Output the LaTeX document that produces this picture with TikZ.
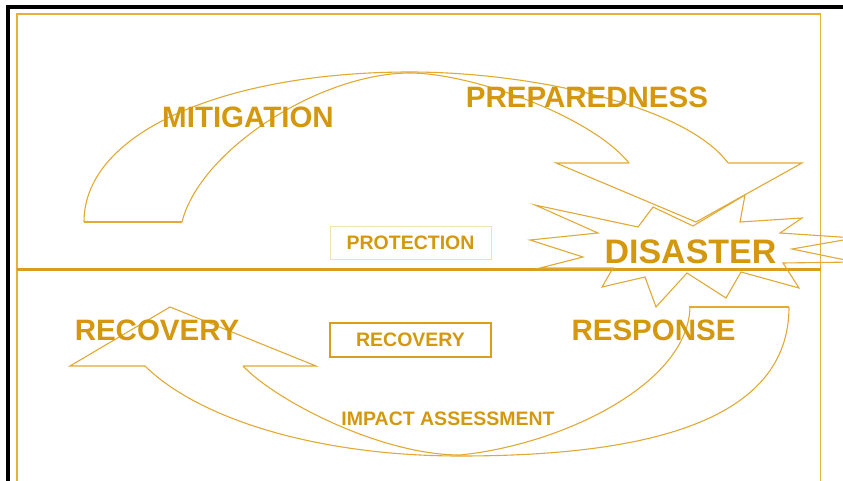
\documentclass[tikz,border=0pt]{standalone}
\usepackage{fontspec}
\setmainfont{Liberation Sans}
\usepackage{tikz}
\usetikzlibrary{calc}
\usepackage{xcolor}
\definecolor{cyclegold}{RGB}{224,170,52}
\definecolor{cycletext}{RGB}{212,152,14}
\definecolor{cyclepale}{RGB}{243,224,180}
\definecolor{cycleframe}{RGB}{230,176,58}
\definecolor{cyclerule}{RGB}{216,158,30}

\begin{document}
\begin{tikzpicture}[x=1pt,y=-1pt,font=\bfseries]

% canvas
\useasboundingbox (0,0) rectangle (843,481);
\clip (0,0) rectangle (843,481);
\fill[white] (0,0) rectangle (843,481);

% black border, left and top only
\fill[black] (6,5) rectangle (10,481);
\fill[black] (6,5) rectangle (843,9);

% gold frame and divider
\draw[cycleframe,line width=1.5pt] (17,14) rectangle (820.5,495);
\draw[cyclerule,line width=2.6pt] (17,269.5) -- (820.5,269.5);

\tikzset{
  band/.style={
    draw=cyclegold,
    line width=1.1pt,
    line join=miter
  },
  phase/.style={
    text=cycletext,
    inner sep=0pt,
    font=\bfseries\fontsize{29.5}{31}\selectfont
  },
  tag/.style={
    text=cycletext,
    inner sep=0pt,
    font=\bfseries\fontsize{19.5}{21}\selectfont
  }
}

% upper band: tail at left, head pointing down at the right
\draw[band] (84,222) -- (182,222);
\draw[band] (84,222)
  .. controls (84,130) and (230,72) .. (410,72)
  .. controls (530,72) and (685,105) .. (728,163);
\draw[band] (182,222)
  .. controls (200,150) and (320,73) .. (410,73)
  .. controls (470,73) and (590,115) .. (629,163);
\draw[band] (629,163) -- (556,163) -- (696,222) -- (802,163) -- (728,163);

% lower band: tail at right, head pointing up at the left
\draw[band] (689,307) -- (789,307);
\draw[band] (789,307)
  .. controls (789,420) and (650,456) .. (460,456)
  .. controls (320,456) and (200,420) .. (145,366);
\draw[band] (690,307)
  .. controls (688,385) and (560,445) .. (460,455)
  .. controls (380,455) and (275,400) .. (243,366);
\draw[band] (145,366) -- (70,366) -- (170,307) -- (316,366) -- (243,366);

% burst round the disaster label
\draw[band] (653,207) -- (693,226) -- (745,195) -- (740,222) -- (802,218)
  -- (780,233) -- (855,238) -- (792,249) -- (855,262) -- (783,263)
  -- (799,288) -- (741,272) -- (726,298) -- (687,273) -- (656,307)
  -- (645,277) -- (602,287) -- (613,268) -- (540,268) -- (583,257)
  -- (530,240) -- (598,233) -- (535,205) -- (638,227) -- cycle;

% phase labels
\node[phase] (mitig) at (248,117.5) {MITIGATION};
\node[phase] (prep) at (587,97) {PREPAREDNESS};
\node[phase,font=\bfseries\fontsize{34}{36}\selectfont] (dis) at (690.5,252) {DISASTER};
\node[phase] (recov) at (157,330.5) {RECOVERY};
\node[phase] (resp) at (653.5,330.5) {RESPONSE};

% boxed tags
\node[tag,draw=cyclepale,line width=1pt,minimum width=161pt,minimum height=33pt]
  (protect) at (410.5,242.5) {PROTECTION};
\node[tag,draw=cyclerule,line width=1.3pt,minimum width=161pt,minimum height=34pt]
  (recbox) at (410.5,340) {RECOVERY};
\node[tag] (impact) at (448,418.5) {IMPACT ASSESSMENT};

\end{tikzpicture}
\end{document}
